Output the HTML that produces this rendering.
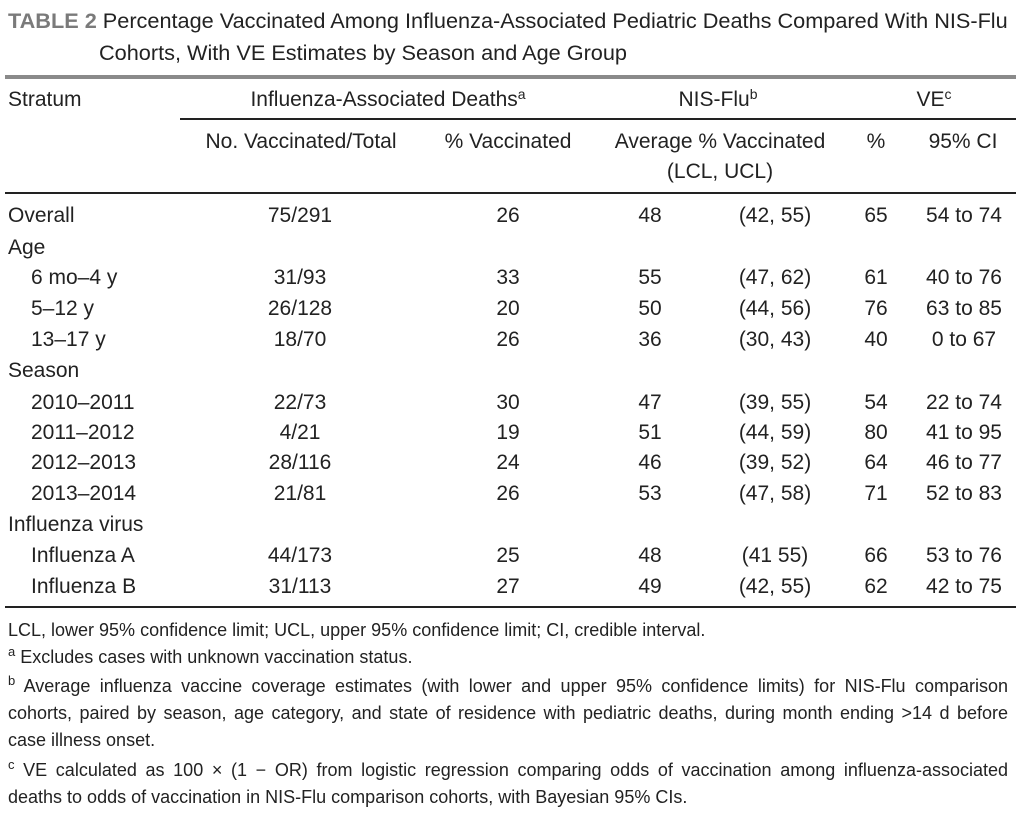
<!DOCTYPE html>
<html><head><meta charset="utf-8"><style>
body{margin:0;background:#fff;width:1024px;height:817px;position:relative;overflow:hidden;font-family:"Liberation Sans",sans-serif;color:#222}
.t{position:absolute;white-space:nowrap;font-size:21px;line-height:24px}
.c{transform:translateX(-50%)}
.l{position:absolute;left:5px;width:1011px;background:#222}
sup{font-size:14px;vertical-align:7px;line-height:0}
.f{position:absolute;left:8px;width:1000px;font-size:18px;line-height:27px;text-align:justify;text-align-last:justify;white-space:nowrap}
.f sup{font-size:13px}
</style></head><body>
<div class="t" style="left:8px;top:8px;font-size:21.7px;line-height:26px"><b style="color:#7a7a7a">TABLE 2</b> Percentage Vaccinated Among Influenza-Associated Pediatric Deaths Compared With NIS-Flu</div>
<div class="t" style="left:99px;top:40px;font-size:21.7px;line-height:26px">Cohorts, With VE Estimates by Season and Age Group</div>
<div class="l" style="top:75px;height:4px;background:#8a8a8a"></div>
<div class="t" style="left:8px;top:88px">Stratum</div>
<div class="t c" style="left:388px;top:88px">Influenza-Associated Deaths<sup>a</sup></div>
<div class="t c" style="left:718px;top:88px">NIS-Flu<sup>b</sup></div>
<div class="t c" style="left:934px;top:88px">VE<sup>c</sup></div>
<div class="l" style="top:118px;height:2px;left:180px;width:836px"></div>
<div class="t c" style="left:301px;top:130px">No. Vaccinated/Total</div>
<div class="t c" style="left:508px;top:130px">% Vaccinated</div>
<div class="t c" style="left:720px;top:130px">Average % Vaccinated</div>
<div class="t c" style="left:720px;top:160px">(LCL, UCL)</div>
<div class="t c" style="left:876px;top:130px">%</div>
<div class="t c" style="left:963px;top:130px">95% CI</div>
<div class="l" style="top:192px;height:2px"></div>
<div id="rows"></div>
<div class="l" style="top:606px;height:2px"></div>
<div class="f" style="top:617px;text-align-last:left">LCL, lower 95% confidence limit; UCL, upper 95% confidence limit; CI, credible interval.</div>
<div class="f" style="top:644px;text-align-last:left"><sup>a</sup> Excludes cases with unknown vaccination status.</div>
<div class="f" style="top:673px;white-space:normal"><sup>b</sup> Average influenza vaccine coverage estimates (with lower and upper 95% confidence limits) for NIS-Flu comparison</div>
<div class="f" style="top:700px;white-space:normal">cohorts, paired by season, age category, and state of residence with pediatric deaths, during month ending &gt;14 d before</div>
<div class="f" style="top:727px;text-align-last:left">case illness onset.</div>
<div class="f" style="top:757px;white-space:normal"><sup>c</sup> VE calculated as 100 × (1 − OR) from logistic regression comparing odds of vaccination among influenza-associated</div>
<div class="f" style="top:784px;text-align-last:left">deaths to odds of vaccination in NIS-Flu comparison cohorts, with Bayesian 95% CIs.</div>
<script>
var R=[[216,"Overall",0,"75/291","26","48","(42, 55)","65","54 to 74"],[248,"Age",0],
[278,"6 mo–4 y",1,"31/93","33","55","(47, 62)","61","40 to 76"],
[309,"5–12 y",1,"26/128","20","50","(44, 56)","76","63 to 85"],
[340,"13–17 y",1,"18/70","26","36","(30, 43)","40","0 to 67"],
[371,"Season",0],
[403,"2010–2011",1,"22/73","30","47","(39, 55)","54","22 to 74"],
[433,"2011–2012",1,"4/21","19","51","(44, 59)","80","41 to 95"],
[463,"2012–2013",1,"28/116","24","46","(39, 52)","64","46 to 77"],
[494,"2013–2014",1,"21/81","26","53","(47, 58)","71","52 to 83"],
[525,"Influenza virus",0],
[556,"Influenza A",1,"44/173","25","48","(41 55)","66","53 to 76"],
[587,"Influenza B",1,"31/113","27","49","(42, 55)","62","42 to 75"]];
var X=[300,508,650,775,876,964],h="";
R.forEach(function(r){var t=r[0]-12;h+='<div class="t" style="left:'+(r[2]?31:8)+'px;top:'+t+'px">'+r[1]+'</div>';
for(var i=3;i<r.length;i++)h+='<div class="t c" style="left:'+X[i-3]+'px;top:'+t+'px">'+r[i]+'</div>';});
document.getElementById("rows").outerHTML=h;
</script>
</body></html>
